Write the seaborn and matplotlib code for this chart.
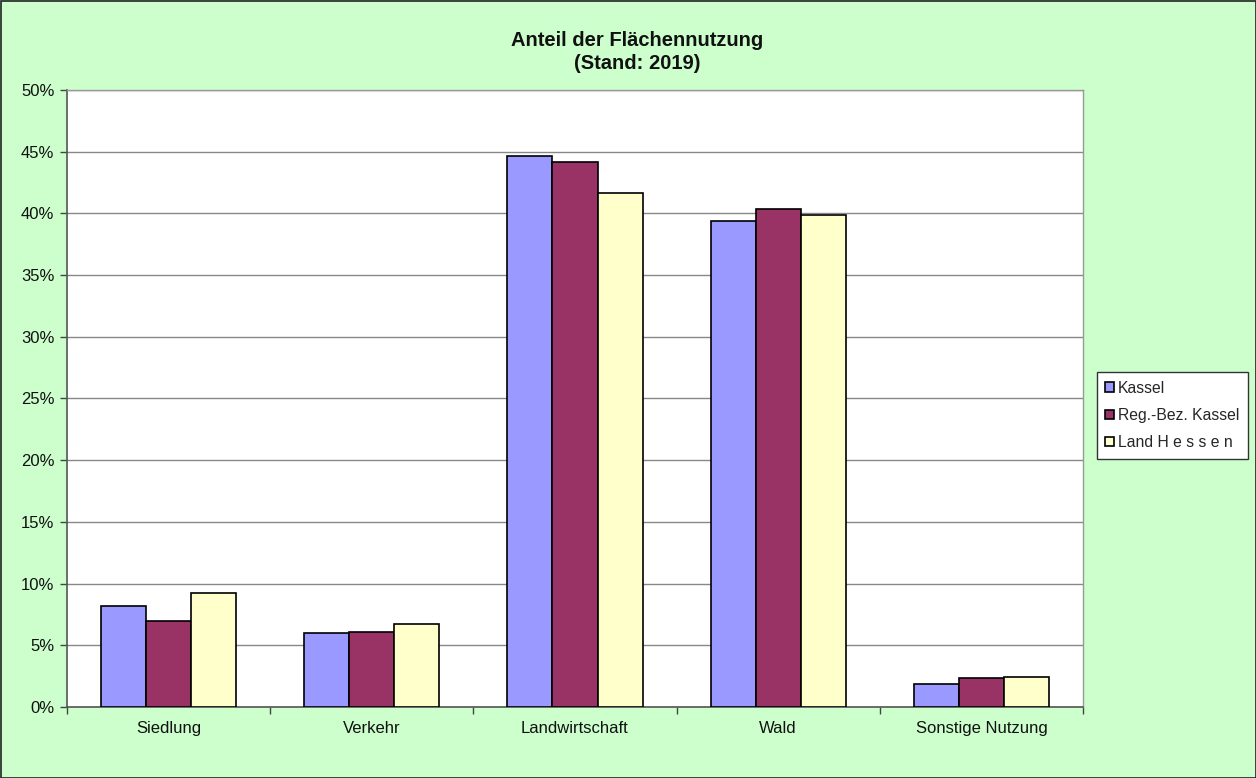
import matplotlib
matplotlib.use("Agg")
import matplotlib.pyplot as plt
from matplotlib.patches import Rectangle
from matplotlib.ticker import FixedLocator, PercentFormatter
import seaborn as sns
import pandas as pd

categories = ["Siedlung", "Verkehr", "Landwirtschaft", "Wald", "Sonstige Nutzung"]
series_names = ["Kassel", "Reg.-Bez. Kassel", "Land H e s s e n"]
kassel = [8.2, 6.0, 44.65, 39.4, 1.85]
reg_bez = [6.95, 6.1, 44.2, 40.35, 2.35]
hessen = [9.2, 6.75, 41.65, 39.85, 2.45]
colors = ["#9999FF", "#993366", "#FFFFCC"]

df = pd.DataFrame({
    "Kategorie": categories * 3,
    "Reihe": [s for s in series_names for _ in categories],
    "Anteil": kassel + reg_bez + hessen,
})

sns.set_theme(style="white")
plt.rcParams["font.family"] = ["Liberation Sans", "DejaVu Sans"]

fig = plt.figure(figsize=(12.56, 7.78), dpi=100, facecolor="#CCFFCC")
fig.patches.append(Rectangle((0.0008, 0.0), 0.999, 0.9985, transform=fig.transFigure,
                             fill=False, edgecolor="#222222", linewidth=1.2))
ax = fig.add_axes([0.0533, 0.0913, 0.8090, 0.7930])
ax.set_facecolor("white")

sns.barplot(data=df, x="Kategorie", y="Anteil", hue="Reihe", palette=colors,
            saturation=1, width=0.665, edgecolor="black", linewidth=1.2, ax=ax, zorder=3)

ax.set_ylim(0, 50)
ax.set_xlim(-0.5, 4.5)
ax.set_yticks(range(0, 51, 5))
ax.yaxis.set_major_formatter(PercentFormatter(decimals=0))
ax.yaxis.grid(True, color="#888888", linewidth=1.0, zorder=0)
ax.set_axisbelow(True)

ax.tick_params(axis="y", which="major", direction="out", length=5, width=1,
               color="#444444", labelsize=12, labelcolor="#111111", pad=4, left=True)
ax.tick_params(axis="x", which="major", length=0, labelsize=12, labelcolor="#111111", pad=10)
ax.xaxis.set_minor_locator(FixedLocator([-0.5, 0.5, 1.5, 2.5, 3.5, 4.5]))
ax.tick_params(axis="x", which="minor", direction="out", length=5, width=1,
               color="#444444", bottom=True)

ax.set_xlabel("")
ax.set_ylabel("")
for side in ["left", "bottom"]:
    ax.spines[side].set_color("#555555")
    ax.spines[side].set_linewidth(1.2)
for side in ["top", "right"]:
    ax.spines[side].set_color("#999999")
    ax.spines[side].set_linewidth(1.0)

fig.text(0.507, 0.948, "Anteil der Flächennutzung", ha="center", va="center",
         fontsize=14.5, fontweight="bold", color="#111111")
fig.text(0.507, 0.918, "(Stand: 2019)", ha="center", va="center",
         fontsize=14.5, fontweight="bold", color="#111111")

handles, labels = ax.get_legend_handles_labels()
leg = ax.legend(handles, labels, loc="center left", bbox_to_anchor=(1.0135, 0.4725),
                frameon=True, fancybox=False, framealpha=1, fontsize=11.3,
                handlelength=0.55, handleheight=0.55, handletextpad=0.25,
                labelspacing=0.78, borderpad=0.55, borderaxespad=0)
leg.get_frame().set_edgecolor("#333333")
leg.get_frame().set_linewidth(1.0)
leg.get_frame().set_facecolor("white")

fig.savefig("out.png", dpi=100, facecolor=fig.get_facecolor())
